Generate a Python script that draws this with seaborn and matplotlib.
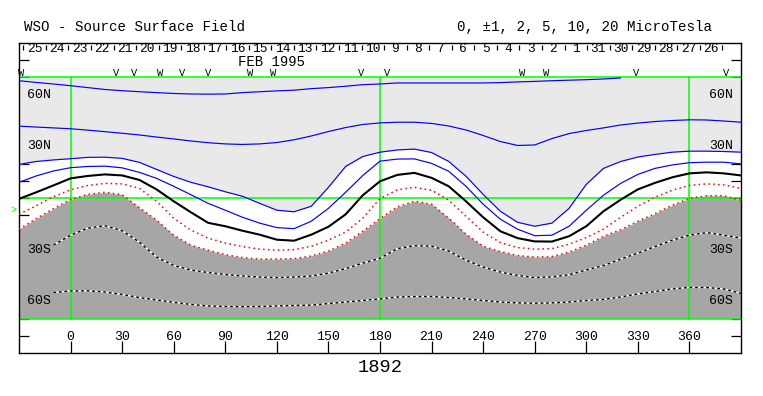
import numpy as np
import matplotlib
matplotlib.use("Agg")
import matplotlib.pyplot as plt
import seaborn as sns

nan = np.nan

# Carrington longitude samples (deg)
lon = list(range(-30, 391, 10))

# Contour latitudes (deg), one list per field level (microTesla)
pos10 = [68.1, 67.1, 66.2, 65.2, 64.1, 63.0, 62.3, 61.7, 61.2, 60.7, 60.4, 60.3, 60.4, 61.2,
         61.7, 62.2, 62.6, 63.5, 64.1, 64.9, 65.8, 66.2, 66.8, 66.8, 66.8, 66.8, 66.8, 66.8,
         67.0, 67.4, 67.7, 68.1, 68.4, 68.7, 69.1, 69.7, nan, nan, nan, nan, nan, nan, nan]
pos5 = [41.7, 41.2, 40.7, 40.2, 39.4, 38.5, 37.6, 36.6, 35.4, 34.3, 33.1, 32.1, 31.4, 31.1,
        31.4, 32.2, 33.8, 36.0, 38.6, 40.9, 42.7, 43.6, 44.0, 44.0, 43.3, 41.8, 39.5, 36.3,
        32.8, 30.5, 30.8, 34.5, 37.4, 39.2, 40.7, 42.4, 43.5, 44.4, 45.0, 45.4, 45.3, 44.7, 44.0]
pos2 = [19.5, 21.2, 22.1, 22.8, 23.6, 23.7, 23.0, 20.7, 16.6, 12.5, 9.1, 6.5, 3.6, 1.0,
        -3.1, -7.1, -8.0, -4.8, 6.2, 18.3, 24.1, 26.6, 27.9, 28.4, 26.4, 21.2, 12.6, 2.1,
        -7.7, -14.1, -16.4, -14.6, -6.0, 7.9, 17.2, 21.2, 23.8, 25.3, 26.6, 27.2, 27.2, 27.0, 26.6]
pos1 = [9.1, 12.8, 15.7, 17.6, 18.3, 18.5, 17.5, 14.9, 11.4, 6.8, 1.9, -3.1, -7.1, -11.2,
        -14.6, -17.2, -17.8, -13.5, -6.0, 3.3, 13.1, 21.4, 22.6, 22.7, 20.1, 15.5, 6.8, -3.6,
        -12.3, -18.1, -21.9, -21.6, -16.4, -7.1, 1.6, 8.5, 13.7, 17.2, 19.2, 20.5, 20.8, 20.8, 19.8]
zero = [-0.5, 3.3, 7.3, 11.4, 12.8, 13.7, 13.1, 10.5, 5.0, -1.9, -8.3, -14.4, -16.4, -19.0,
        -21.3, -24.2, -24.8, -21.3, -16.7, -9.5, 1.6, 9.7, 13.4, 14.6, 11.7, 6.8, -1.9, -11.2,
        -19.3, -23.3, -25.2, -25.3, -22.2, -16.4, -7.7, -1.0, 5.0, 8.8, 12.0, 14.3, 14.9, 14.3, 13.1]
neg1 = [-9.4, -4.5, 0.7, 4.7, 7.3, 8.5, 8.2, 5.6, -1.9, -11.7, -18.7, -23.3, -26.2, -28.2,
        -29.7, -30.3, -30.0, -28.0, -24.5, -19.8, -11.7, -0.3, 4.7, 6.2, 4.5, -1.3, -10.6, -19.8,
        -25.9, -28.8, -29.7, -29.4, -26.8, -23.0, -18.1, -11.2, -4.8, 0.4, 4.5, 7.3, 8.2, 7.6, 5.6]
neg2 = [-18.1, -12.0, -6.2, -0.8, 2.1, 3.3, 1.9, -5.7, -12.9, -21.6, -27.4, -30.3, -32.9, -34.6,
        -35.5, -35.5, -35.2, -33.7, -30.8, -26.2, -19.3, -11.9, -5.2, -1.9, -3.6, -11.7, -21.0, -28.0,
        -31.1, -33.4, -34.3, -34.0, -31.4, -27.4, -22.2, -18.4, -13.5, -9.1, -4.2, -0.2, 1.3, 1.3, -1.3]
neg5 = [nan, nan, -27.4, -21.6, -17.5, -16.1, -19.0, -25.6, -34.3, -39.2, -41.8, -43.3, -44.4, -45.3,
        -45.9, -46.2, -45.9, -45.3, -43.6, -41.0, -37.8, -35.0, -29.4, -27.7, -28.0, -30.8, -36.1, -40.1,
        -43.0, -45.0, -46.2, -45.8, -44.6, -41.8, -39.2, -35.5, -32.0, -28.2, -24.5, -21.6, -20.1, -21.6, -23.3]
neg10 = [nan, nan, -54.9, -54.0, -53.9, -54.6, -56.0, -57.8, -59.2, -60.6, -61.8, -62.7, -63.0, -63.1,
         -63.0, -62.7, -62.4, -62.2, -61.3, -60.4, -59.5, -58.6, -57.5, -57.2, -57.2, -57.8, -58.6, -59.5,
         -60.4, -60.9, -61.1, -60.9, -60.4, -59.5, -58.9, -57.5, -55.7, -54.3, -52.8, -51.9, -52.0, -52.8, -55.4]

# Carrington day labels along the top (decreasing with longitude)
day_labels = ["25", "24", "23", "22", "21", "20", "19", "18", "17", "16", "15", "14", "13", "12",
              "11", "10", "9", "8", "7", "6", "5", "4", "3", "2", "1", "31", "30", "29", "28", "27", "26"]
day_first_edge = -27.5
day_step = 13.12

# observation markers
mark_lon = [-28.6, 26.7, 37.2, 52.3, 65.0, 80.1, 104.5, 117.9, 169.0, 184.0, 262.5, 276.4, 329.2, 381.5]
mark_txt = ["W", "V", "V", "W", "V", "V", "W", "W", "V", "V", "W", "W", "V", "V"]

x_ticks = list(range(0, 361, 30))
lat_labels = {60: "60N", 30: "30N", -30: "30S", -60: "60S"}

LIGHT = "#e9e9e9"
DARK = "#a6a6a6"
GREEN = "#00ff00"

sns.set_theme(style="white")
plt.rcParams["font.family"] = ["Liberation Mono", "DejaVu Sans"]

fig = plt.figure(figsize=(7.63, 3.96), dpi=100)
ax = fig.add_axes([19 / 763, 1 - 353 / 396, 722 / 763, 310 / 396])
ax.set_xlim(-30, 390)
ax.set_ylim(-90, 90)
ax.set_facecolor("white")
ax.grid(False)

# shaded polarity regions
ax.fill_between(lon, pos2, 70, color=LIGHT, lw=0, zorder=1)
ax.fill_between(lon, -70, neg2, color=DARK, lw=0, zorder=1)

# green reference grid
for yy in (70, 0, -70):
    ax.axhline(yy, color=GREEN, lw=1.1, zorder=2)
for xx in (0, 180, 360):
    ax.plot([xx, xx], [-70, 70], color=GREEN, lw=1.1, zorder=2)

# contour lines
styles = [
    (pos10, "#0000ff", "-", 0.85),
    (pos5, "#0000ff", "-", 0.85),
    (pos2, "#0000ff", "-", 0.85),
    (pos1, "#0000ff", "-", 0.85),
    (zero, "black", "-", 1.5),
    (neg1, "#ff0000", (0, (1, 2.2)), 1.1),
    (neg2, "#ff0000", (0, (1, 2.2)), 1.1),
]
for vals, col, ls, lw in styles:
    sns.lineplot(x=lon, y=vals, ax=ax, color=col, linestyle=ls, lw=lw,
                 errorbar=None, legend=False, zorder=4)
for vals in (neg5, neg10):
    sns.lineplot(x=lon, y=vals, ax=ax, color="white", lw=1.0, errorbar=None,
                 legend=False, zorder=4)
    sns.lineplot(x=lon, y=vals, ax=ax, color="black", lw=1.0, linestyle=(0, (2, 2)),
                 errorbar=None, legend=False, zorder=5)

# ticks
ax.set_xticks(x_ticks)
ax.set_yticks(list(range(-80, 81, 10)))
ax.tick_params(axis="x", direction="in", length=9, width=0.9, color="black",
               bottom=True, top=False, labelbottom=False)
ax.tick_params(axis="y", direction="in", length=7, width=0.9, color="black",
               left=True, right=True, labelleft=False, labelright=False)
for s in ax.spines.values():
    s.set_color("black")
    s.set_linewidth(1.0)
    s.set_visible(True)

for t in x_ticks:
    ax.text(t, -80.7, str(t), ha="center", va="center", fontsize=9.5, color="black")

for lat, lab in lat_labels.items():
    ax.text(-25.5, lat, lab, ha="left", va="center", fontsize=9.5, color="black", zorder=6)
    ax.text(385.5, lat, lab, ha="right", va="center", fontsize=9.5, color="black", zorder=6)

# Carrington day row
edges = [day_first_edge + k * day_step for k in range(len(day_labels) + 1)]
ax.vlines(edges, 85.8, 88.6, color="black", lw=0.9)
for k, lab in enumerate(day_labels):
    ax.text(day_first_edge + (k + 0.5) * day_step, 86.3, lab, ha="center", va="center",
            fontsize=9.3, color="black")
ax.text(116.7, 78.9, "FEB 1995", ha="center", va="center", fontsize=10, color="black")
for xm, tm in zip(mark_lon, mark_txt):
    ax.text(xm, 72.8, tm, ha="center", va="center", fontsize=7.5, color="black")

ax.text(-31.5, -7, ">", ha="right", va="center", fontsize=7, color=GREEN, clip_on=False)

fig.text(24 / 763, 1 - 27 / 396, "WSO - Source Surface Field", ha="left", va="center",
         fontsize=10.2, color="black")
fig.text(457 / 763, 1 - 27 / 396, "0, \u00b11, 2, 5, 10, 20 MicroTesla", ha="left", va="center",
         fontsize=10.2, color="black")
fig.text(380 / 763, 1 - 367 / 396, "1892", ha="center", va="center", fontsize=13.5, color="black")

fig.savefig("out.png", dpi=100, facecolor="white")
